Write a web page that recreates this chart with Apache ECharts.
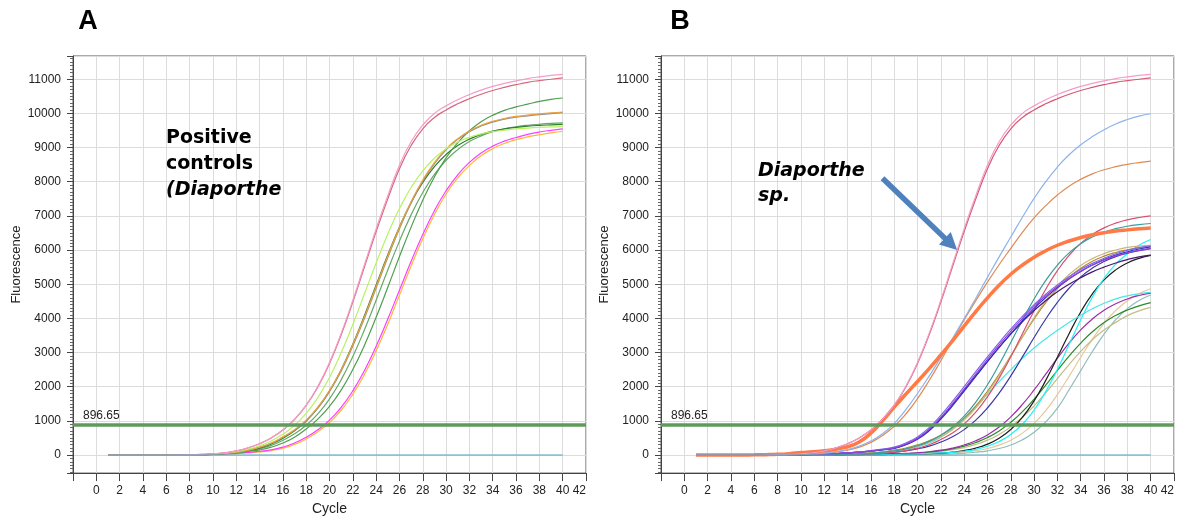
<!DOCTYPE html>
<html>
<head>
<meta charset="utf-8">
<script src="https://cdn.jsdelivr.net/npm/echarts@6/dist/echarts.min.js"></script>
<style>
  html, body { margin: 0; padding: 0; background: #ffffff; }
  #chart { width: 1177px; height: 521px; }
</style>
</head>
<body>
<div id="chart"></div>
<script>
// ---- axis values ----
const cycles = [1,2,3,4,5,6,7,8,9,10,11,12,13,14,15,16,17,18,19,20,
                21,22,23,24,25,26,27,28,29,30,31,32,33,34,35,36,37,38,39,40];
const cycleTicks = [0,2,4,6,8,10,12,14,16,18,20,22,24,26,28,30,32,34,36,38,40,42];
const fluorescenceTicks = [0,1000,2000,3000,4000,5000,6000,7000,8000,9000,10000,11000];
const threshold = 896.65;

// ---- amplification curves (fluorescence per cycle 1..40) ----
const pinkCurve = [0,0,0,0,0,0,2,8,18,35,
  65,120,210,330,500,730,1045,1460,2010,2710,
  3560,4530,5575,6620,7590,8480,9170,9660,10000,10220,
  10400,10550,10680,10790,10880,10950,11020,11070,11110,11140];
const roseCurve = [0,0,0,0,0,0,2,8,18,35,
  65,120,210,330,500,730,1040,1450,1990,2680,
  3520,4480,5510,6540,7500,8380,9060,9550,9880,10100,
  10280,10430,10560,10670,10760,10840,10910,10960,11000,11040];
const yellowGreenA = [0,0,0,0,0,0,1,5,12,30,
  55,100,170,270,410,610,866,1220,1680,2270,
  2990,3820,4720,5620,6470,7215,7830,8320,8690,8965,
  9160,9300,9400,9465,9510,9545,9570,9590,9605,9615];
const orangeA = [0,0,0,0,0,0,1,4,10,25,
  45,80,140,230,350,530,737,1021,1400,1890,
  2490,3230,4050,4935,5825,6670,7415,8050,8560,8960,
  9260,9485,9650,9765,9850,9910,9950,9985,10015,10040];
const grayA = [0,0,0,0,0,0,1,4,10,24,
  44,78,136,224,342,518,722,1000,1375,1860,
  2455,3190,4005,4890,5780,6625,7375,8015,8530,8935,
  9240,9465,9630,9745,9830,9890,9930,9965,9995,10020];
const greenA = [0,0,0,0,0,0,1,3,8,25,
  45,70,105,150,230,350,520,760,1051,1426,
  1900,2500,3215,4030,4910,5810,6670,7460,8140,8700,
  9145,9490,9755,9945,10090,10190,10270,10350,10410,10450];
const darkGreenA = [0,0,0,0,0,0,1,4,10,25,
  45,80,130,200,320,490,711,994,1376,1873,
  2496,3243,4083,4976,5860,6678,7390,7977,8442,8795,
  9057,9246,9383,9479,9546,9593,9626,9649,9665,9680];
const midGreenA = [0,0,0,0,0,0,1,3,8,20,
  40,65,110,180,280,430,619,873,1204,1643,
  2200,2881,3669,4530,5414,6261,7029,7683,8213,8628,
  8939,9175,9341,9464,9549,9609,9652,9682,9705,9720];
const magentaA = [0,0,0,0,0,0,0,2,6,15,
  30,50,75,110,150,230,350,520,739,1022,
  1397,1878,2475,3184,3980,4825,5669,6456,7152,7736,
  8203,8566,8838,9042,9189,9294,9385,9455,9505,9545];
const yellowA = [0,0,0,0,0,0,0,2,5,12,
  25,40,60,90,130,200,310,470,680,950,
  1310,1780,2360,3050,3830,4680,5530,6330,7040,7640,
  8110,8480,8760,8970,9120,9230,9310,9375,9430,9470];
const baselineCurve = [0,0,0,0,0,0,0,0,0,0,
  0,0,0,0,0,0,0,0,0,0,
  0,0,0,0,0,0,0,0,0,0,
  0,0,0,0,0,0,0,0,0,0];

const lightBlueB = [0,0,0,0,0,0,1,4,10,20,
  35,60,100,160,260,410,620,920,1330,1800,
  2310,2850,3410,3990,4590,5200,5800,6380,6960,7510,
  8000,8430,8790,9080,9320,9520,9690,9820,9920,9990];
const brownB = [0,0,0,0,0,0,1,3,8,15,
  30,50,85,140,230,370,570,840,1200,1650,
  2180,2760,3360,3950,4520,5060,5570,6050,6520,6940,
  7300,7610,7870,8070,8230,8350,8440,8510,8560,8600];
const coralB = [0,0,0,0,2,5,10,20,40,70,
  95,125,170,240,380,640,1000,1400,1780,2150,
  2530,2930,3340,3770,4200,4600,4970,5290,5560,5790,
  5980,6140,6265,6365,6445,6505,6555,6590,6620,6645];
const violetB = [0,0,0,0,0,0,0,2,5,10,
  15,25,40,60,85,120,160,210,320,490,
  750,1100,1500,1930,2370,2800,3220,3620,4000,4350,
  4660,4930,5170,5380,5560,5710,5830,5920,5990,6050];
const slateB = [0,0,0,0,0,0,0,2,5,10,
  16,27,42,64,90,128,172,230,350,530,
  800,1160,1570,2000,2440,2870,3290,3690,4060,4400,
  4710,4980,5220,5430,5610,5760,5890,5990,6070,6120];
const blueB = [0,0,0,0,0,0,0,2,4,9,
  14,23,37,56,80,112,152,190,300,460,
  710,1050,1440,1870,2300,2730,3150,3550,3930,4290,
  4610,4900,5150,5370,5560,5720,5850,5950,6030,6090];
const indigoB = [0,0,0,0,0,0,0,2,5,10,
  15,25,40,60,85,118,158,200,310,480,
  740,1080,1470,1890,2320,2740,3150,3540,3900,4230,
  4520,4780,5000,5190,5360,5500,5620,5720,5800,5850];
const tealB = [0,0,0,0,0,0,0,1,3,5,
  8,12,18,22,32,50,80,120,180,270,
  400,580,817,1136,1550,2055,2648,3293,3948,4566,
  5110,5560,5916,6186,6383,6525,6625,6696,6744,6777];
const crimsonB = [0,0,0,0,0,0,0,1,2,3,
  5,8,12,17,23,30,50,80,130,200,
  300,452,642,905,1255,1703,2249,2876,3550,4224,
  4851,5397,5845,6195,6458,6648,6788,6883,6952,6998];
const khakiB = [0,0,0,0,0,0,0,1,2,4,
  7,11,17,25,36,52,78,118,175,260,
  377,532,742,1021,1378,1816,2328,2888,3465,4019,
  4518,4943,5284,5550,5749,5896,6000,6076,6115,6140];
const goldB = [0,0,0,0,0,0,0,1,3,5,
  8,12,18,27,40,60,88,140,205,295,
  417,580,797,1079,1435,1866,2362,2900,3453,3983,
  4462,4872,5207,5470,5671,5820,5929,6008,6064,6105];
const navyB = [0,0,0,0,0,0,0,1,2,3,
  5,7,11,16,24,35,50,80,120,180,
  260,378,533,743,1020,1376,1811,2316,2871,3438,
  3981,4469,4882,5215,5473,5665,5807,5909,5981,6040];
const aquaB = [0,0,0,0,0,0,0,1,2,4,
  7,11,17,30,45,65,95,135,175,245,
  350,520,760,1060,1400,1780,2150,2500,2830,3130,
  3400,3650,3880,4090,4280,4440,4570,4660,4720,4760];
const plumB = [0,0,0,0,0,0,0,0,1,2,
  3,5,8,12,17,23,30,38,48,65,
  95,140,202,292,416,588,817,1114,1479,1903,
  2365,2833,3274,3662,3983,4237,4428,4568,4669,4741];
const forestB = [0,0,0,0,0,0,0,0,0,1,
  2,4,6,9,13,18,24,32,40,55,
  82,127,181,258,365,511,705,956,1268,1636,
  2046,2476,2895,3277,3607,3876,4086,4246,4364,4460];
const oliveB = [0,0,0,0,0,0,0,0,0,0,
  0,2,5,8,11,16,22,30,40,52,
  68,107,153,218,309,434,602,823,1103,1438,
  1822,2233,2646,3033,3373,3657,3882,4080,4220,4320];
const blackB = [0,0,0,0,0,0,0,0,0,0,
  0,0,2,4,6,9,12,17,23,30,
  38,55,82,129,203,318,490,745,1105,1586,
  2184,2861,3552,4187,4717,5125,5419,5621,5757,5845];
const tanB = [0,0,0,0,0,0,0,0,0,0,
  0,0,0,0,2,5,8,12,17,24,
  32,42,55,82,126,190,290,434,640,926,
  1302,1768,2302,2860,3390,3855,4230,4515,4720,4865];
const grayTealB = [0,0,0,0,0,0,0,0,0,0,
  0,0,0,0,0,2,4,7,10,14,
  20,28,38,52,80,122,189,291,444,665,
  970,1371,1910,2470,3030,3537,3960,4284,4520,4682];
const cyanB = [0,0,0,0,0,0,0,0,0,0,
  0,0,0,0,3,8,12,17,24,33,
  45,60,78,110,166,257,395,602,901,1314,
  1855,2509,3235,3962,4621,5168,5585,5888,6140,6310];

// ---- annotation anchors (cycle, fluorescence) ----
const arrowTail = [17.0, 8100];
const arrowTip = [23.4, 6000];

// ---- drawing ----
const FONT = '"Liberation Sans", Arial, sans-serif';
const AXIS_COLOR = '#444';
const GRID_COLOR = '#dcdcdc';

function curve(values, color, gridIndex, width) {
  return {
    type: 'line',
    xAxisIndex: gridIndex,
    yAxisIndex: gridIndex,
    data: cycles.map((c, i) => [c, values[i]]),
    symbol: 'none',
    showSymbol: false,
    smooth: 0.5,
    lineStyle: { color: color, width: width || 1.2 },
    itemStyle: { color: color },
    emphasis: { disabled: true },
    silent: true,
    z: 3
  };
}

function baselineWithThreshold(gridIndex) {
  const s = curve(baselineCurve, '#4aa3b5', gridIndex, 1.2);
  s.smooth = false;
  s.z = 5;
  s.markLine = {
    silent: true,
    symbol: 'none',
    animation: false,
    lineStyle: { color: '#5c9b5c', width: 3.5, type: 'solid', opacity: 1 },
    label: {
      show: true,
      position: 'insideStartTop',
      formatter: String(threshold),
      distance: [10, 3],
      color: '#222',
      fontSize: 12,
      fontFamily: FONT
    },
    data: [{ yAxis: threshold }]
  };
  return s;
}

function xAxis(gridIndex) {
  return {
    type: 'value', gridIndex: gridIndex,
    min: -2, max: 42, interval: 2,
    axisLine: { show: true, onZero: false, lineStyle: { color: AXIS_COLOR } },
    axisTick: { show: true, length: 8, lineStyle: { color: AXIS_COLOR } },
    axisLabel: {
      formatter: v => cycleTicks.indexOf(v) >= 0 ? String(v) : '',
      margin: 12, fontSize: 12, color: '#222', fontFamily: FONT,
      alignMaxLabel: 'right'
    },
    splitLine: { show: true, lineStyle: { color: GRID_COLOR, width: 1 } },
    name: 'Cycle', nameLocation: 'middle', nameGap: 25,
    nameTextStyle: { fontSize: 14, color: '#222', fontFamily: FONT }
  };
}

function yAxis(gridIndex) {
  return {
    type: 'value', gridIndex: gridIndex,
    min: -530, max: 11680,
    minInterval: 1000, maxInterval: 1000, splitNumber: 12,
    axisLine: { show: true, onZero: false, lineStyle: { color: AXIS_COLOR } },
    axisTick: { show: true, length: 6, lineStyle: { color: AXIS_COLOR } },
    minorTick: { show: true, splitNumber: 10, length: 3, lineStyle: { color: '#666' } },
    axisLabel: {
      formatter: v => fluorescenceTicks.indexOf(Math.round(v)) >= 0 && Math.abs(v - Math.round(v)) < 1e-6 ? String(Math.round(v)) : '',
      margin: 12, fontSize: 12, color: '#222', fontFamily: FONT
    },
    splitLine: { show: true, lineStyle: { color: GRID_COLOR, width: 1 } },
    name: 'Fluorescence', nameLocation: 'middle', nameGap: 50,
    nameTextStyle: { fontSize: 13, color: '#222', fontFamily: FONT }
  };
}

const seriesA = [
  curve(yellowA, '#ffb63c', 0),
  curve(magentaA, '#ff3cff', 0),
  curve(midGreenA, '#68a868', 0),
  curve(darkGreenA, '#2f7f2f', 0),
  curve(greenA, '#4e9e4e', 0),
  curve(grayA, '#8e8e8e', 0),
  curve(orangeA, '#e8a23c', 0),
  curve(yellowGreenA, '#b8f264', 0),
  curve(roseCurve, '#d5697b', 0),
  curve(pinkCurve, '#f59dc9', 0),
  baselineWithThreshold(0)
];

const seriesB = [
  curve(grayTealB, '#8fbcbc', 1),
  curve(tanB, '#e6c89e', 1),
  curve(oliveB, '#c2be86', 1),
  curve(forestB, '#2a8a2a', 1),
  curve(plumB, '#9b2ea6', 1),
  curve(blackB, '#1e1e1e', 1),
  curve(cyanB, '#1ff2f8', 1),
  curve(aquaB, '#48e6ea', 1),
  curve(navyB, '#3a3aa6', 1),
  curve(goldB, '#b48a2c', 1),
  curve(khakiB, '#cbb67a', 1),
  curve(crimsonB, '#d8506e', 1),
  curve(tealB, '#3a9e9c', 1),
  curve(indigoB, '#4b1670', 1),
  curve(blueB, '#2f34d0', 1),
  curve(slateB, '#7b68ee', 1),
  curve(violetB, '#9a40d8', 1),
  curve(brownB, '#df8a52', 1),
  curve(lightBlueB, '#8db2ef', 1),
  curve(coralB, '#ff7a45', 1, 3.5),
  curve(roseCurve, '#d45a72', 1),
  curve(pinkCurve, '#f59dc9', 1),
  baselineWithThreshold(1)
];

const chart = echarts.init(document.getElementById('chart'), null, { renderer: 'canvas' });

chart.setOption({
  animation: false,
  backgroundColor: '#ffffff',
  grid: [
    { left: 73, top: 56, width: 513, height: 424, show: true, borderColor: '#555', borderWidth: 1, containLabel: false },
    { left: 661, top: 56, width: 513, height: 424, show: true, borderColor: '#555', borderWidth: 1, containLabel: false }
  ],
  xAxis: [xAxis(0), xAxis(1)],
  yAxis: [yAxis(0), yAxis(1)],
  series: seriesA.concat(seriesB),
  graphic: [
    { type: 'text', x: 88, y: 22, z: 10,
      style: { text: 'A', font: 'bold 27px ' + FONT, fill: '#000', align: 'center', verticalAlign: 'middle' } },
    { type: 'text', x: 680, y: 22, z: 10,
      style: { text: 'B', font: 'bold 27px ' + FONT, fill: '#000', align: 'center', verticalAlign: 'middle' } },
    { type: 'text', x: 166, y: 125, z: 10,
      style: {
        text: '{n|Positive}\n{n|controls}\n{i|(Diaporthe}',
        verticalAlign: 'top', align: 'left',
        rich: {
          n: { fontFamily: '"DejaVu Sans", Verdana, sans-serif', fontWeight: 'bold', fontSize: 19, lineHeight: 26, fill: '#000' },
          i: { fontFamily: '"DejaVu Sans", Verdana, sans-serif', fontWeight: 'bold', fontStyle: 'italic', fontSize: 19, lineHeight: 26, fill: '#000' }
        }
      } },
    { type: 'text', x: 758, y: 159, z: 10,
      style: {
        text: '{i|Diaporthe}\n{i|sp.}',
        verticalAlign: 'top', align: 'left',
        rich: {
          i: { fontFamily: '"DejaVu Sans", Verdana, sans-serif', fontWeight: 'bold', fontStyle: 'italic', fontSize: 19, lineHeight: 25, fill: '#000' }
        }
      } }
  ]
});

// Arrow pointing at the Diaporthe sp. curve, placed from data coordinates
const p0 = chart.convertToPixel({ gridIndex: 1 }, arrowTail);
const p1 = chart.convertToPixel({ gridIndex: 1 }, arrowTip);
const dx = p1[0] - p0[0], dy = p1[1] - p0[1];
const len = Math.sqrt(dx * dx + dy * dy);
const ux = dx / len, uy = dy / len;
const headLen = 17, headHalf = 8.5;
const bx = p1[0] - ux * headLen, by = p1[1] - uy * headLen;
chart.setOption({
  graphic: [
    { id: 'arrowShaft', type: 'line', z: 10,
      shape: { x1: p0[0], y1: p0[1], x2: bx + ux * 2, y2: by + uy * 2 },
      style: { stroke: '#4f81bd', lineWidth: 5.5, lineCap: 'butt' } },
    { id: 'arrowHead', type: 'polygon', z: 10,
      shape: { points: [
        [p1[0], p1[1]],
        [bx - uy * headHalf, by + ux * headHalf],
        [bx + uy * headHalf, by - ux * headHalf]
      ] },
      style: { fill: '#4f81bd' } }
  ]
});
</script>
</body>
</html>
